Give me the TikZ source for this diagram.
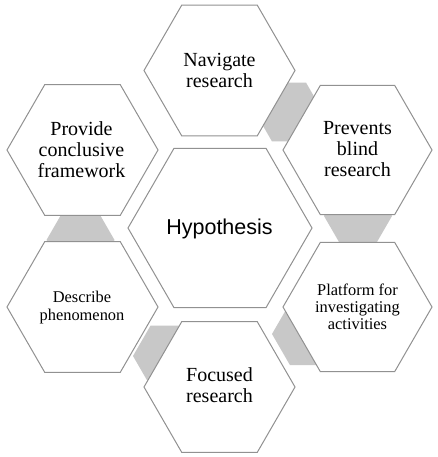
\documentclass[tikz,border=0pt]{standalone}
\usepackage{fontspec}
\setmainfont{Liberation Serif}
\newfontfamily\hypfont{Liberation Sans}
\definecolor{hexline}{RGB}{145,145,145}
\definecolor{linkgray}{RGB}{200,200,200}
\newcommand\hexp[3]{({#1+#3},{#2}) -- ({#1+0.5*#3},{#2+0.8660*#3}) -- ({#1-0.5*#3},{#2+0.8660*#3}) -- ({#1-#3},{#2}) -- ({#1-0.5*#3},{#2-0.8660*#3}) -- ({#1+0.5*#3},{#2-0.8660*#3}) -- cycle}
\tikzset{
  hexbox/.style={draw=hexline, line width=1pt, fill=white, line join=miter},
  linkhex/.style={fill=linkgray, draw=none},
  bigtxt/.style={align=center, inner sep=0pt, font=\fontsize{20}{21}\selectfont},
  smalltxt/.style={align=center, inner sep=0pt, font=\fontsize{16.4}{17.2}\selectfont},
  hyptxt/.style={align=center, inner sep=0pt, font=\hypfont\fontsize{21.5}{24}\selectfont}
}
\begin{document}
\begin{tikzpicture}[x=1pt,y=-1pt]
\useasboundingbox[fill=white] (0,0) rectangle (437,457);
% gray link hexagons (behind)
\fill[linkhex] \hexp{289}{112}{34};
\fill[linkhex] \hexp{358}{216}{34};
\fill[linkhex] \hexp{308}{334}{36};
\fill[linkhex] \hexp{168}{356}{35};
\fill[linkhex] \hexp{80.5}{240}{34};
% hexagons
\filldraw[hexbox] \hexp{220}{228}{92};
\filldraw[hexbox] \hexp{219.5}{70.5}{75.5};
\filldraw[hexbox] \hexp{357.5}{150}{74.5};
\filldraw[hexbox] \hexp{357.5}{307}{74.5};
\filldraw[hexbox] \hexp{219.5}{387}{75.5};
\filldraw[hexbox] \hexp{82.5}{307}{75.5};
\filldraw[hexbox] \hexp{82.5}{150}{75.5};
% texts
\node[hyptxt] (hyp) at (219.5,229.4) {Hypothesis};
\node[bigtxt] (nav) at (219.5,70.5) {Navigate\\research};
\node[bigtxt] (prev) at (357.5,149.5) {Prevents\\blind\\research};
\node[smalltxt] (plat) at (357.5,307) {Platform for\\investigating\\activities};
\node[bigtxt] (foc) at (219.5,385.5) {Focused\\research};
\node[smalltxt] (desc) at (82,307.5) {Describe\\phenomenon};
\node[bigtxt] (prov) at (81.5,149.5) {Provide\\conclusive\\framework};
\end{tikzpicture}
\end{document}
